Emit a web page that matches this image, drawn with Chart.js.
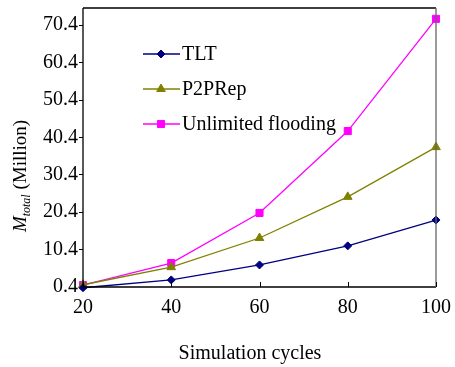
<!DOCTYPE html>
<html>
<head>
<meta charset="utf-8">
<script src="https://cdn.jsdelivr.net/npm/chart.js@4.4.1/dist/chart.umd.min.js"></script>
<style>
    html, body { margin: 0; padding: 0; background: #ffffff; }
    #wrap { width: 455px; height: 367px; }
</style>
</head>
<body>
<div id="wrap"><canvas id="chart" width="455" height="367"></canvas></div>
<script>
(function () {
    "use strict";

    // chart data
    const cycles = [20, 40, 60, 80, 100];
    const tltValues = [0.2, 2.3, 6.3, 11.4, 18.3];
    const p2prepValues = [1.0, 5.7, 13.5, 24.5, 37.8];
    const floodingValues = [0.9, 6.8, 20.2, 42.1, 72.1];
    const yTicks = [0.4, 10.4, 20.4, 30.4, 40.4, 50.4, 60.4, 70.4];

    const FONT = '"Liberation Serif", "Times New Roman", serif';
    const FONT_SIZE = 20;

    /**
     * Draws the frame, inner x tick marks, axis titles and the legend box
     */
    const decorations = {
        id: 'decorations',
        afterDraw(chart) {
            const ctx = chart.ctx;
            const area = chart.chartArea;
            const xs = chart.scales.x;

            ctx.save();
            ctx.lineWidth = 1.3;
            ctx.strokeStyle = '#000000';
            ctx.beginPath();
            ctx.moveTo(area.left, area.top);
            ctx.lineTo(area.left, area.bottom);
            ctx.lineTo(area.right, area.bottom);
            ctx.moveTo(area.left, area.top);
            ctx.lineTo(area.right, area.top);
            ctx.stroke();
            ctx.strokeStyle = '#666666';
            ctx.beginPath();
            ctx.moveTo(area.right, area.top);
            ctx.lineTo(area.right, area.bottom);
            ctx.stroke();

            // x tick marks point into the plot
            ctx.strokeStyle = '#000000';
            ctx.lineWidth = 1;
            ctx.beginPath();
            cycles.forEach(c => {
                const px = Math.round(xs.getPixelForValue(c)) + 0.5;
                ctx.moveTo(px, area.bottom);
                ctx.lineTo(px, area.bottom - 5);
            });
            ctx.stroke();

            // x axis title
            ctx.fillStyle = '#000000';
            ctx.font = FONT_SIZE + 'px ' + FONT;
            ctx.textAlign = 'center';
            ctx.textBaseline = 'middle';
            ctx.fillText('Simulation cycles', 250, 354);

            // y axis title: italic M with italic subscript
            ctx.translate(20, 176);
            ctx.rotate(-Math.PI / 2);
            ctx.textAlign = 'left';
            ctx.textBaseline = 'alphabetic';
            const mainFont = 'italic 19px ' + FONT;
            const subFont = 'italic 12px ' + FONT;
            const restFont = '19px ' + FONT;
            ctx.font = mainFont;
            const wM = ctx.measureText('M').width;
            ctx.font = subFont;
            const wSub = ctx.measureText('total').width;
            ctx.font = restFont;
            const wRest = ctx.measureText(' (Million)').width;
            let x0 = -(wM + wSub + wRest) / 2;
            const base = 6;
            ctx.font = mainFont;
            ctx.fillText('M', x0, base);
            x0 += wM;
            ctx.font = subFont;
            ctx.fillText('total', x0, base + 4);
            x0 += wSub;
            ctx.font = restFont;
            ctx.fillText(' (Million)', x0, base);
            ctx.restore();

            // legend
            ctx.save();
            const rows = [54, 89, 124];
            chart.data.datasets.forEach((ds, i) => {
                const y = rows[i];
                ctx.strokeStyle = ds.borderColor;
                ctx.fillStyle = ds.borderColor;
                ctx.lineWidth = 1.3;
                ctx.beginPath();
                ctx.moveTo(143, y);
                ctx.lineTo(180, y);
                ctx.stroke();
                ctx.lineWidth = 1;
                Chart.helpers.drawPoint(ctx, {
                    pointStyle: ds.pointStyle,
                    radius: ds.pointRadius,
                    rotation: 0,
                    borderWidth: 1
                }, 161, y);
                ctx.fillStyle = '#000000';
                ctx.font = FONT_SIZE + 'px ' + FONT;
                ctx.textAlign = 'left';
                ctx.textBaseline = 'middle';
                ctx.fillText(ds.label, 182, y + 1);
            });
            ctx.restore();
        }
    };

    function makeSet(label, values, color, style, radius) {
        return {
            label: label,
            data: values,
            borderColor: color,
            backgroundColor: color,
            pointBackgroundColor: color,
            pointBorderColor: color,
            borderWidth: 1.3,
            pointStyle: style,
            pointRadius: radius,
            pointBorderWidth: 1,
            tension: 0,
            clip: false
        };
    }

    new Chart(document.getElementById('chart'), {
        type: 'line',
        data: {
            labels: cycles,
            datasets: [
                makeSet('TLT', tltValues, '#000080', 'rectRot', 4),
                makeSet('P2PRep', p2prepValues, '#808000', 'triangle', 5),
                makeSet('Unlimited flooding', floodingValues, '#ff00ff', 'rect', 5)
            ]
        },
        options: {
            responsive: false,
            animation: false,
            layout: { padding: { left: 0, right: 19, top: 8, bottom: 0 } },
            plugins: {
                legend: { display: false },
                tooltip: { enabled: false }
            },
            scales: {
                x: {
                    type: 'linear',
                    min: 20,
                    max: 100,
                    afterBuildTicks: s => { s.ticks = cycles.map(v => ({ value: v })); },
                    afterFit: s => {
                        s.height = 80;
                        s.paddingLeft = 0;
                        s.paddingRight = 0;
                    },
                    grid: { drawOnChartArea: false, drawTicks: false },
                    border: { display: false },
                    ticks: {
                        color: '#000000',
                        padding: 9,
                        font: { family: FONT, size: FONT_SIZE },
                        maxRotation: 0
                    }
                },
                y: {
                    min: 0.4,
                    max: 75,
                    afterBuildTicks: s => { s.ticks = yTicks.map(v => ({ value: v })); },
                    afterFit: s => {
                        s.width = 83;
                        s.paddingTop = 0;
                        s.paddingBottom = 0;
                    },
                    grid: { drawOnChartArea: false, tickLength: 4, color: '#000000' },
                    border: { display: false },
                    ticks: {
                        color: '#000000',
                        padding: 1,
                        font: { family: FONT, size: FONT_SIZE },
                        callback: v => v.toFixed(1)
                    }
                }
            }
        },
        plugins: [decorations]
    });
})();
</script>
</body>
</html>
